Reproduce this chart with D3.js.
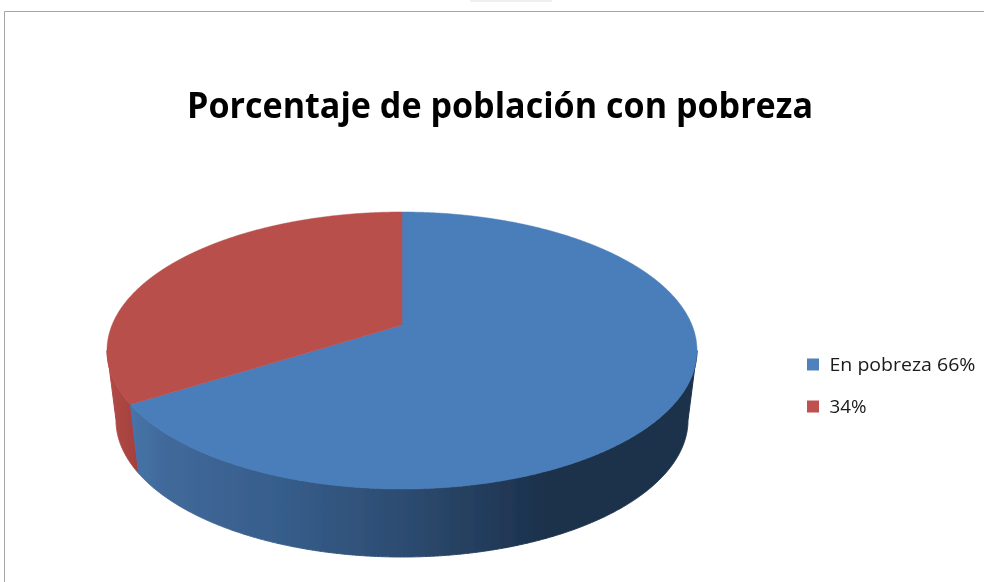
<!DOCTYPE html>
<html><head><meta charset="utf-8">
<script src="https://cdn.jsdelivr.net/npm/d3@7"></script>
<style>html,body{margin:0;padding:0;background:#fff}svg{display:block}text{font-family:"Open Sans","Noto Sans",sans-serif}</style>
</head><body><svg id="c" width="984" height="582"></svg>
<script>
const chartTitle = "Porcentaje de población con pobreza";
const categories = ["En pobreza 66%", "34%"];
const values = [66, 34];
const topColors = ["#4a7ebb", "#b94f4c"];
const legendColors = ["#4f81bd", "#c0504d"];
const legendWidths = [146, 37];

const svg = d3.select("#c");
const defs = svg.append("defs");
defs.append("filter").attr("id","soft").append("feGaussianBlur").attr("stdDeviation",0.6);
defs.append("filter").attr("id","softText").append("feGaussianBlur").attr("stdDeviation",0.35);
const g1 = defs.append("linearGradient").attr("id","blueWall")
  .attr("gradientUnits","userSpaceOnUse").attr("x1",107).attr("x2",697).attr("y1",0).attr("y2",0);
[[0,"#4a7bb3"],[0.1,"#41699a"],[0.3,"#365d8b"],[0.52,"#2c4a6e"],[0.75,"#1b304b"],[1,"#1b304b"]]
  .forEach(s=>g1.append("stop").attr("offset",s[0]).attr("stop-color",s[1]));
const g2 = defs.append("linearGradient").attr("id","redWall")
  .attr("gradientUnits","userSpaceOnUse").attr("x1",107).attr("x2",137).attr("y1",0).attr("y2",0);
[[0,"#b24a47"],[1,"#a5403d"]].forEach(s=>g2.append("stop").attr("offset",s[0]).attr("stop-color",s[1]));
const wallFill = ["url(#blueWall)","url(#redWall)"];

// frame
svg.append("rect").attr("x",470).attr("y",0).attr("width",82).attr("height",2).attr("fill","#f0f0f0");
svg.append("path").attr("d","M4.5,582V11.5H984").attr("fill","none").attr("stroke","#a6a6a6").attr("stroke-width",1);

// scales from unit disc to screen
const xTop = d3.scaleLinear().domain([-1,1]).range([107,697]);
const yTop = d3.scaleLinear().domain([-1,1]).range([212,489]);
const xBot = d3.scaleLinear().domain([-1,1]).range([116,688]);
const yBot = d3.scaleLinear().domain([-1,1]).range([283,557]);
const tilt = -0.184; // perspective shift of the pie centre

function project(a){
  const u=Math.sin(a), v=-Math.cos(a), d=1+tilt*v;
  return [u*Math.sqrt(1-tilt*tilt)/d,(v+tilt)/d];
}
const apex=[0,tilt];
const arcs=d3.pie().sort(null)(values);
const pie=svg.append("g").attr("filter","url(#soft)");
const line=d3.line();

[1,0].forEach(i=>{
  const s=arcs[i];
  const angles=d3.range(s.startAngle,s.endAngle,0.004).concat([s.endAngle]);
  const pts=angles.map(project).filter(p=>p[1]>=0);
  const top=pts.map(p=>[xTop(p[0]),yTop(p[1])]);
  const bot=pts.map(p=>[xBot(p[0]),yBot(p[1])]).reverse();
  pie.append("path").attr("d",line(top.concat(bot))+"Z").attr("fill",wallFill[i])
    .attr("stroke",wallFill[i]).attr("stroke-width",1);
});
arcs.forEach((s,i)=>{
  const angles=d3.range(s.startAngle,s.endAngle,0.004).concat([s.endAngle]);
  const pts=angles.map(project).map(p=>[xTop(p[0]),yTop(p[1])]);
  pts.push([xTop(apex[0]),yTop(apex[1])]);
  pie.append("path").attr("d",line(pts)+"Z").attr("fill",topColors[i]).attr("stroke",topColors[i]).attr("stroke-width",0.5);
});

// title
svg.append("text").attr("x",500).attr("y",118).attr("text-anchor","middle")
  .attr("font-size",36.5).attr("font-weight",700).attr("fill","#000").attr("filter","url(#softText)")
  .attr("textLength",626).attr("lengthAdjust","spacingAndGlyphs").text(chartTitle);

// legend
const legendY=d3.scalePoint().domain(categories).range([364.5,406.5]);
const lg=svg.append("g").selectAll("g").data(categories).join("g");
lg.append("rect").attr("x",807).attr("y",d=>legendY(d)-6).attr("width",12).attr("height",12)
  .attr("fill",(d,i)=>legendColors[i]);
lg.append("text").attr("x",829.5).attr("y",d=>legendY(d)+6.5).attr("font-size",17.8).attr("fill","#1a1a1a")
  .attr("filter","url(#softText)")
  .attr("textLength",(d,i)=>legendWidths[i]).attr("lengthAdjust","spacingAndGlyphs").text(d=>d);
</script></body></html>
